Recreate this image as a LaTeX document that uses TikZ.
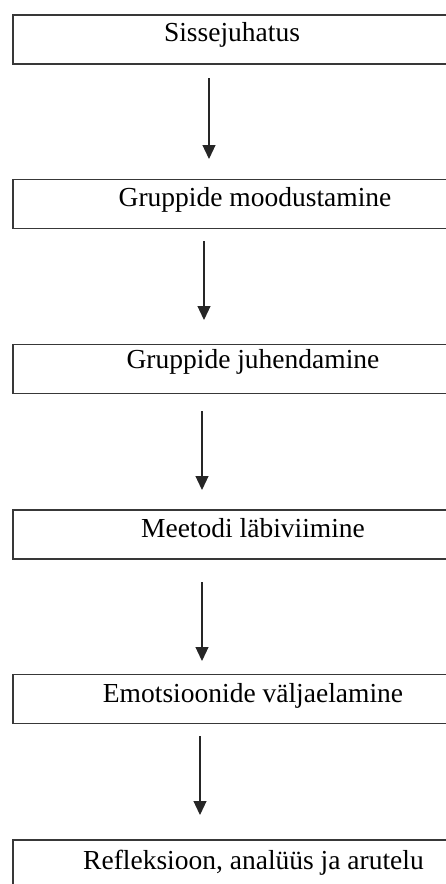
\documentclass[tikz,border=0pt]{standalone}
\usepackage{fontspec}
\setmainfont{Liberation Serif}
\usetikzlibrary{arrows.meta}
\begin{document}
\begin{tikzpicture}[x=1pt,y=-1pt,
  box/.style={draw=black!78, line width=1.5pt, minimum width=440pt, minimum height=49pt, inner sep=0pt, anchor=north west},
  lbl/.style={anchor=base, font=\fontsize{27.5}{30}\selectfont, inner sep=0pt, text=black},
  arr/.style={draw=black!85, line width=1.2pt, -{Triangle[length=14pt,width=13pt]}}]
\useasboundingbox (0,0) rectangle (446,884);
\clip (0,0) rectangle (446,884);
\node[box] (b1) at (12,14) {};
\node[box] (b2) at (12,178.5) {};
\node[box] (b3) at (12,343.5) {};
\node[box] (b4) at (12,509) {};
\node[box] (b5) at (12,673.5) {};
\node[box] (b6) at (12,839) {};
\node[lbl] (t1) at (232,41) {Sissejuhatus};
\node[lbl] (t2) at (255,206) {Gruppide moodustamine};
\node[lbl] (t3) at (253,368.5) {Gruppide juhendamine};
\node[lbl] (t4) at (253,537) {Meetodi läbiviimine};
\node[lbl] (t5) at (253,702) {Emotsioonide väljaelamine};
\node[lbl] (t6) at (253.5,869) {Refleksioon, analüüs ja arutelu};
\coordinate (a1s) at (209,78);  \coordinate (a1e) at (209,159);
\coordinate (a2s) at (204,241); \coordinate (a2e) at (204,320);
\coordinate (a3s) at (202,411); \coordinate (a3e) at (202,490);
\coordinate (a4s) at (202,582); \coordinate (a4e) at (202,661);
\coordinate (a5s) at (200,736); \coordinate (a5e) at (200,815);
\draw[arr] (a1s) -- (a1e);
\draw[arr] (a2s) -- (a2e);
\draw[arr] (a3s) -- (a3e);
\draw[arr] (a4s) -- (a4e);
\draw[arr] (a5s) -- (a5e);
\end{tikzpicture}
\end{document}
